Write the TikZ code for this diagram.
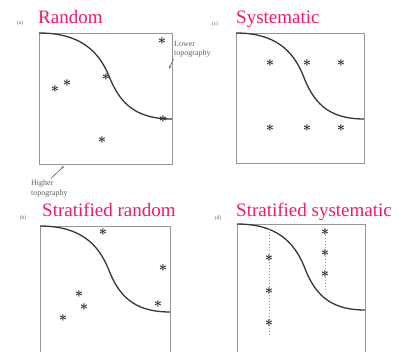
\documentclass[tikz,border=0pt]{standalone}
\usepackage{fontspec}
\setmainfont{Liberation Serif}
\usetikzlibrary{positioning,arrows.meta}
\definecolor{titlepink}{RGB}{250,20,110}
\definecolor{boxgray}{RGB}{150,150,150}
\definecolor{inkgray}{RGB}{55,55,55}
\definecolor{notegray}{RGB}{95,95,95}
% the sloping boundary, in panel coordinates
\newcommand{\topoline}{(0,0) .. controls (40,0) and (58,18) .. (68,42) .. controls (78,68) and (92,86) .. (130,86)}

\begin{document}
\begin{tikzpicture}[x=1pt,y=-1pt,
    frame/.style={draw=boxgray,line width=0.9pt},
    slope/.style={draw=inkgray,line width=1.3pt},
    sample/.style={inner sep=0pt,text=black!85,font=\fontsize{14}{14}\selectfont\boldmath},
    title/.style={anchor=base west,inner sep=0pt,text=titlepink,font=\fontsize{19}{21}\selectfont},
    tag/.style={inner sep=0pt,text=notegray,font=\fontsize{5.5}{6}\selectfont},
    note/.style={inner sep=0pt,align=left,text=notegray,font=\fontsize{8}{9.5}\selectfont},
    pointer/.style={-{Stealth[length=3pt]},draw=notegray,line width=0.6pt},
    transect/.style={draw=boxgray,line width=1pt,dotted}]
  \useasboundingbox (0,0) rectangle (404,352);

  % (a) random
  \node[tag] (taga) at (20,23) {(a)};
  \node[title] (titlea) at (38,24) {Random};
  \draw[frame] (39,33) rectangle (172,164);
  \draw[slope,shift={(39,33)},xscale=133/130] \topoline;
  \node[sample] (a1) at (162,41) {$\ast$};
  \node[sample] (a2) at (106,77) {$\ast$};
  \node[sample] (a3) at (67,83) {$\ast$};
  \node[sample] (a4) at (55,89) {$\ast$};
  \node[sample] (a5) at (163,119) {$\ast$};
  \node[sample] (a6) at (102,140) {$\ast$};
  \node[note,anchor=north west] (lower) at (174,41) {Lower\\topography};
  \coordinate (lowertip) at (169,69);
  \draw[pointer,shorten <=1pt] (lower.south west) -- (lowertip);
  \node[note,anchor=north west] (higher) at (31,180) {Higher\\topography};
  \coordinate (highertip) at (64,166);
  \draw[pointer,shorten <=2pt] (higher.north) -- (highertip);

  % (c) systematic
  \node[tag] (tagc) at (215,24) {(c)};
  \node[title] (titlec) at (236,24) {Systematic};
  \draw[frame] (236,33) rectangle (364,163);
  \draw[slope,shift={(236,33)},xscale=128/130] \topoline;
  \foreach \px [count=\i] in {270,307,341} {
    \node[sample] (c\i) at (\px,63) {$\ast$};
    \node[sample] (cc\i) at (\px,128) {$\ast$};
  }

  % (b) stratified random
  \node[tag] (tagb) at (23,218) {(b)};
  \node[title] (titleb) at (42,217) {Stratified random};
  \draw[frame] (40,352) -- (40,226) -- (170,226) -- (170,352);
  \draw[slope,shift={(40,226)}] \topoline;
  \node[sample] (b1) at (103,232) {$\ast$};
  \node[sample] (b2) at (163,268) {$\ast$};
  \node[sample] (b3) at (79,294) {$\ast$};
  \node[sample] (b4) at (84,307) {$\ast$};
  \node[sample] (b5) at (63,318) {$\ast$};
  \node[sample] (b6) at (158,304) {$\ast$};

  % (d) stratified systematic
  \node[tag] (tagd) at (218,218) {(d)};
  \node[title] (titled) at (236,217) {Stratified systematic};
  \draw[frame] (237,352) -- (237,224) -- (365,224) -- (365,352);
  \draw[slope,shift={(237,224)},xscale=128/130] \topoline;
  \coordinate (up1) at (269,229);
  \coordinate (dn1) at (269,337);
  \coordinate (up2) at (325,229);
  \coordinate (dn2) at (325,290);
  \draw[transect] (up1) -- (dn1);
  \draw[transect] (up2) -- (dn2);
  \foreach \py [count=\i] in {258,291,323}
    \node[sample] (d\i) at (269,\py) {$\ast$};
  \foreach \py [count=\i] in {232,253,274}
    \node[sample] (dd\i) at (325,\py) {$\ast$};
\end{tikzpicture}
\end{document}
